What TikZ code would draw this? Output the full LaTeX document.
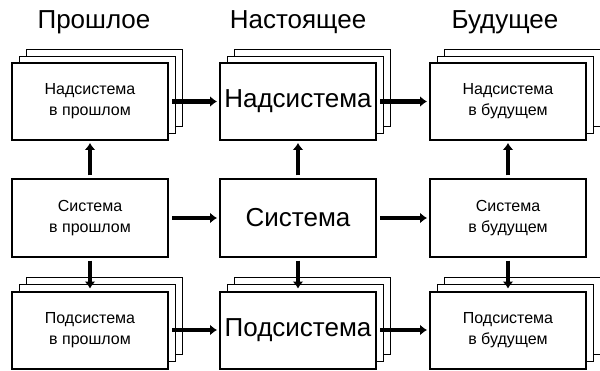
\documentclass[tikz,border=0pt]{standalone}
\usepackage{fontspec}
\setmainfont{Liberation Sans}
\usetikzlibrary{arrows.meta}
\begin{document}
\begin{tikzpicture}[x=1pt,y=1pt,
  box/.style={draw, line width=2pt, fill=white, minimum width=156pt, minimum height=77pt,
    inner sep=0pt, align=center, font=\fontsize{16}{21}\selectfont},
  big/.style={font=\fontsize{26}{30}\selectfont},
  layer/.style={draw, line width=0.8pt, fill=white},
  arr/.style={line width=4.5pt, -{Latex[length=7pt,width=11pt]}, shorten <=3pt, shorten >=2pt},
  head/.style={font=\fontsize{26}{30}\selectfont}]
\useasboundingbox (0,0) rectangle (600,370);
% headers
\node[head] (h1) at (94,348) {Прошлое};
\node[head] (h2) at (298,348) {Настоящее};
\node[head] (h3) at (505,348) {Будущее};
% layers behind stacked boxes
\foreach \x/\y in {90/268.5,298/268.5,508/268.5,90/40,298/40,508/40}{
  \foreach \d in {14,7}{
    \draw[layer] (\x-78+\d,\y-38.5+\d) rectangle (\x+78+\d,\y+38.5+\d);
  }
}
% boxes
\node[box] (n11) at (90,268.5) {Надсистема\\в прошлом};
\node[box,big] (n12) at (298,268.5) {Надсистема};
\node[box] (n13) at (508,268.5) {Надсистема\\в будущем};
\node[box] (n21) at (90,152) {Система\\в прошлом};
\node[box,big] (n22) at (298,152) {Система};
\node[box] (n23) at (508,152) {Система\\в будущем};
\node[box] (n31) at (90,40) {Подсистема\\в прошлом};
\node[box,big] (n32) at (298,40) {Подсистема};
\node[box] (n33) at (508,40) {Подсистема\\в будущем};
% arrows
\foreach \r in {1,2,3}{
  \draw[arr] (n\r1.east) -- (n\r2.west);
  \draw[arr] (n\r2.east) -- (n\r3.west);
}
\foreach \c in {1,2,3}{
  \draw[arr] (n2\c.north) -- (n1\c.south);
  \draw[arr] (n2\c.south) -- (n3\c.north);
}
\end{tikzpicture}
\end{document}
